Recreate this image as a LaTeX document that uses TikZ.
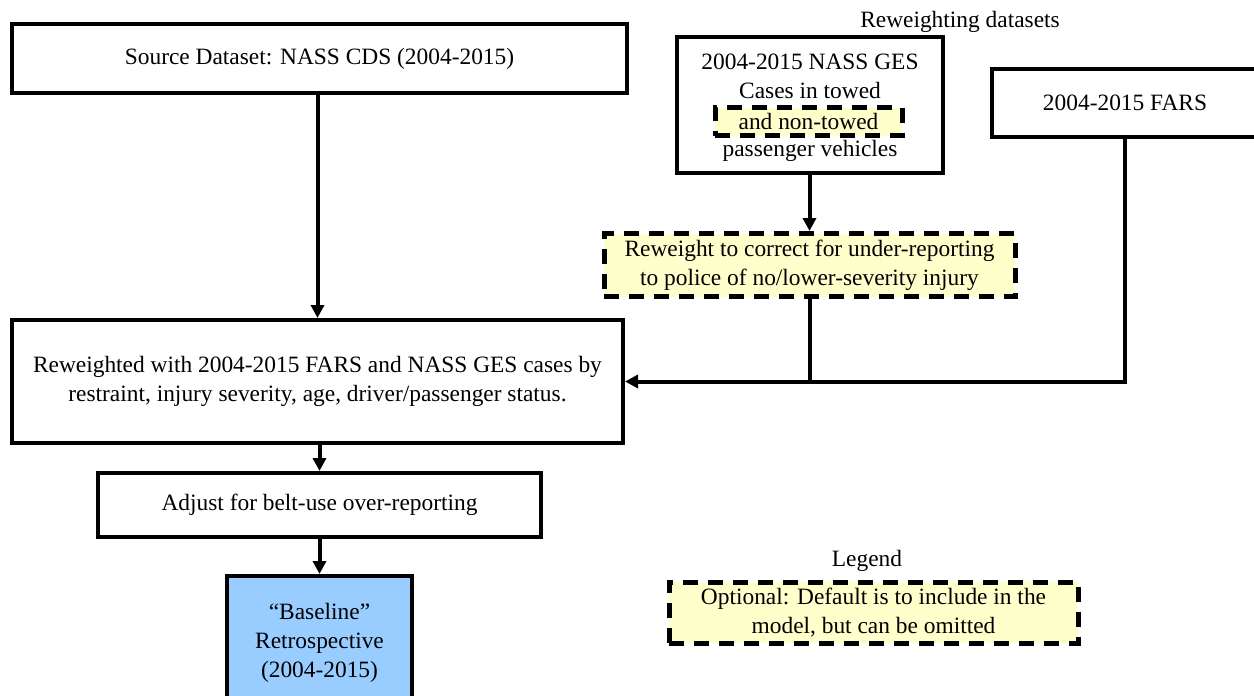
\documentclass[tikz,border=0pt]{standalone}
\usepackage{fontspec}
\setmainfont{Liberation Serif}
\usetikzlibrary{arrows.meta}
\definecolor{optyellow}{RGB}{255,255,204}
\definecolor{baseblue}{RGB}{153,204,255}
\begin{document}
\begin{tikzpicture}[x=1pt, y=-1pt,
    font=\fontsize{23.4}{29}\selectfont,
    box/.style={draw, line width=4pt, inner sep=0pt, align=center},
    optbox/.style={draw, line width=5pt, dash pattern=on 15pt off 10pt, fill=optyellow, inner sep=0pt, align=center},
    link/.style={line width=4pt, -{Triangle[length=13pt, width=13pt]}},
    plain/.style={line width=4pt}]
    \useasboundingbox (0,0) rectangle (1254,696);

    \node[box, minimum width=615pt, minimum height=69pt] (src) at (319.5,58.5) {Source Dataset: NASS CDS (2004-2015)};

    \node at (960,22) (rwlabel) {Reweighting datasets};
    \node[box, minimum width=266pt, minimum height=136pt] (ges) at (810,105) {};
    \node at (810,62) (ges1) {2004-2015 NASS GES};
    \node at (810,90) (ges2) {Cases in towed};
    \node[optbox, minimum width=187pt, minimum height=28pt] (towed) at (808.5,121.5) {and non-towed};
    \node at (810,151) (ges3) {passenger vehicles};

    \node[box, minimum width=266pt, minimum height=68pt] (fars) at (1125,103) {2004-2015 FARS};

    \node[optbox, minimum width=411pt, minimum height=63pt] (opt) at (809.5,265) {Reweight to correct for under-reporting\\to police of no/lower-severity\ injury};

    \node[box, minimum width=611pt, minimum height=123pt] (main) at (317.5,381.5) {Reweighted with 2004-2015 FARS and NASS GES cases by\\restraint, injury severity, age, driver/passenger\ status.};

    \node[box, minimum width=443pt, minimum height=64pt] (adj) at (319.5,505) {Adjust for belt-use over-reporting};

    \node[box, fill=baseblue, minimum width=185pt, minimum height=128pt, text depth=0pt] (base) at (319.5,640) {``Baseline''\\Retrospective\\(2004-2015)};

    \node at (867,561) (leglabel) {Legend};
    \node[optbox, minimum width=409pt, minimum height=61pt] (legend) at (873.5,612.5) {Optional: Default is to include in the\\model, but can be omitted};

    \coordinate (jn) at (opt |- main.east);

    \draw[link] (src.south -| main.north) -- (main.north);
    \draw[link] (ges.south -| opt.north) -- (opt.north);
    \draw[plain] (opt.south) -- (jn);
    \draw[link] (fars.south) -- (fars |- main.east) -- (main.east);
    \draw[link] (main.south -| adj.north) -- (adj.north);
    \draw[link] (adj.south) -- (base.north);
\end{tikzpicture}
\end{document}
